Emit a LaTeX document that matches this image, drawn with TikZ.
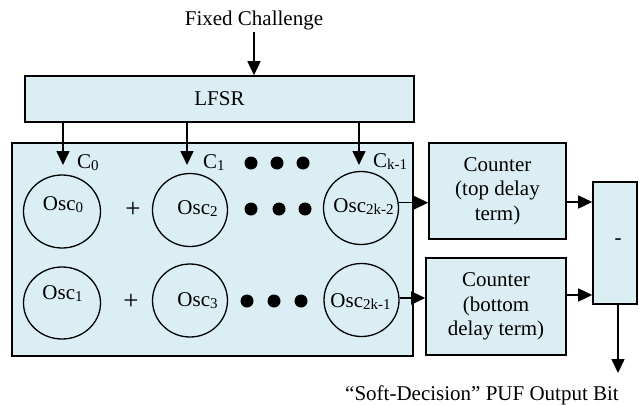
\documentclass[tikz,border=0pt]{standalone}
\usepackage{fontspec}
\setmainfont{Liberation Serif}
\usetikzlibrary{shapes.geometric,arrows.meta}
\definecolor{boxfill}{RGB}{219,238,243}
\newcommand\lsub[1]{\raisebox{-2pt}{\fontsize{15}{15}\selectfont #1}}
\begin{document}
\begin{tikzpicture}[x=1pt,y=-1pt,
  every node/.style={font=\fontsize{21}{24.5}\selectfont},
  blk/.style={draw=black, line width=1.6pt, fill=boxfill, rectangle, inner sep=0pt, align=center},
  osc/.style={draw=black, line width=1.3pt, ellipse, inner sep=0pt, minimum width=75pt, minimum height=73pt},
  dotc/.style={circle, fill=black, inner sep=0pt, minimum size=13pt},
  arr/.style={line width=1.6pt, -{Triangle[length=14pt,width=13pt]}},
  lbl/.style={inner sep=0pt},
  plus/.style={inner sep=0pt, font=\fontsize{27}{27}\selectfont}
]
\useasboundingbox (0,0) rectangle (639,404);

% boxes
\node[blk, minimum width=401pt, minimum height=213pt] (main) at (212.5,249.5) {};
\node[lbl, inner sep=2pt] (fc) at (254,20) {Fixed Challenge};
\node[blk, minimum width=389pt, minimum height=46pt] (lfsr) at (219.5,99) {LFSR};
\node[blk, minimum width=137pt, minimum height=96pt] (ct) at (497.5,191) {Counter\\(top delay\\term)};
\node[blk, minimum width=140pt, minimum height=97pt] (cb) at (496,306.5) {Counter\\(bottom\\delay term)};
\node[blk, minimum width=44pt, minimum height=122pt] (mb) at (615,243) {};
\node[lbl] (minus) at (618,242) {-};

% oscillators
\node[osc, minimum width=77pt] (o0) at (62,211.5) {};
\node[osc] (o2) at (190,210) {};
\node[osc] (o2k2) at (361,208) {};
\node[osc, minimum width=77pt, minimum height=72pt] (o1) at (62,303) {};
\node[osc] (o3) at (190,300.5) {};
\node[osc] (o2k1) at (361.5,300) {};

\node[lbl, anchor=base] (t0) at (63,210) {Osc\lsub{0}};
\node[lbl, anchor=base] (t2) at (197.5,214) {Osc\lsub{2}};
\node[lbl, anchor=base] (t2k2) at (363.5,212) {Osc\lsub{2k-2}};
\node[lbl, anchor=base] (t1) at (62.5,299) {Osc\lsub{1}};
\node[lbl, anchor=base] (t3) at (197.5,306) {Osc\lsub{3}};
\node[lbl, anchor=base] (t2k1) at (360.5,307) {Osc\lsub{2k-1}};

% plus signs
\node[plus] (p1) at (133,210) {+};
\node[plus] (p2) at (131,302) {+};

% dots
\node[dotc] (d1) at (251,163) {};
\node[dotc] (d2) at (277,163) {};
\node[dotc] (d3) at (303,163) {};
\node[dotc] (d4) at (251,209) {};
\node[dotc] (d5) at (279,209) {};
\node[dotc] (d6) at (305,209) {};
\node[dotc] (d7) at (247,301) {};
\node[dotc] (d8) at (274,301) {};
\node[dotc] (d9) at (301,301) {};

% C labels
\node[lbl, anchor=base west] (c0) at (77,168) {C\lsub{0}};
\node[lbl, anchor=base west] (c1) at (203,168) {C\lsub{1}};
\node[lbl, anchor=base west] (ck) at (373,167) {C\lsub{k-1}};

% connectors
\coordinate (k0) at (63,165);
\coordinate (k1) at (187,165);
\coordinate (k2) at (359,165);
\draw[arr] (fc.south) -- (fc.south |- lfsr.north);
\draw[arr] (lfsr.south -| k0) -- (k0);
\draw[arr] (lfsr.south -| k1) -- (k1);
\draw[arr] (lfsr.south -| k2) -- (k2);

\draw[arr] (o2k2.8) -- (o2k2.8 -| ct.west);
\draw[arr] (o2k1.3) -- (o2k1.3 -| cb.west);

\coordinate (ctout) at ([yshift=-11pt]ct.east);
\coordinate (cbout) at ([yshift=11.5pt]cb.east);
\draw[arr] (ctout) -- (ctout -| mb.west);
\draw[arr] (cbout) -- (cbout -| mb.west);

\coordinate (outtip) at (618,373);
\draw[arr] (mb.south -| outtip) -- (outtip);
\node[lbl, anchor=base] (outtxt) at (482,400) {“Soft-Decision” PUF Output Bit};
\end{tikzpicture}
\end{document}
